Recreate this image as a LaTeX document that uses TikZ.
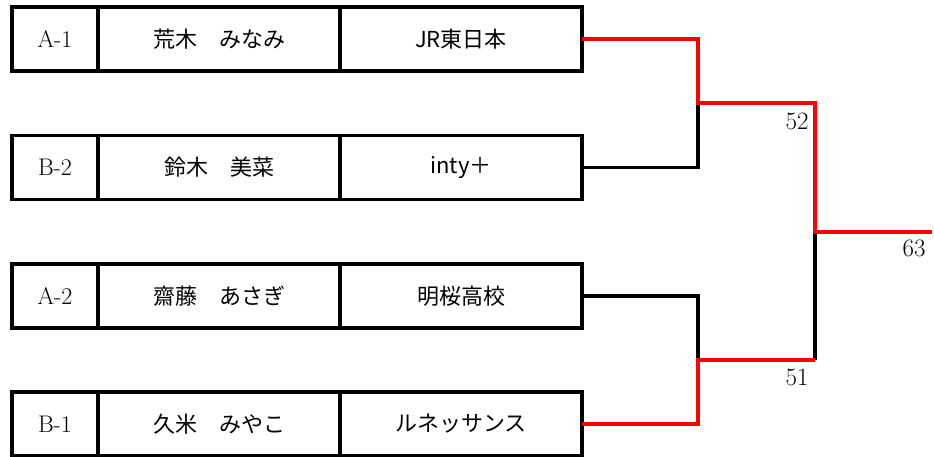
\documentclass[tikz,border=0pt]{standalone}
\usepackage{fontspec}
\newfontfamily\jpfont{Noto Sans CJK JP}
\usepackage{tikz}
\usetikzlibrary{arrows.meta}

\begin{document}
\begin{tikzpicture}[x=1pt,y=-1pt,line width=3.2pt,
cellbox/.style={draw,rectangle,inner sep=0pt,outer sep=0pt,minimum height=64pt},
seedbox/.style={cellbox,minimum width=86pt,font=\fontsize{24}{28}\selectfont},
playerbox/.style={cellbox,minimum width=242pt,font=\jpfont\fontsize{22}{26}\selectfont},
score/.style={font=\fontsize{25}{28}\selectfont}]
\useasboundingbox(0,0)rectangle(934,457);
% entries
\node[seedbox](s1)at(55,39){A-1};
\node[playerbox](p1)at(219,39){荒木　みなみ};
\node[playerbox](t1)at(461,39){JR東日本};
\node[seedbox](s2)at(55,167.5){B-2};
\node[playerbox](p2)at(219,167.5){鈴木　美菜};
\node[playerbox](t2)at(461,167.5){inty＋};
\node[seedbox](s3)at(55,296){A-2};
\node[playerbox](p3)at(219,296){齋藤　あさぎ};
\node[playerbox](t3)at(461,296){明桜高校};
\node[seedbox](s4)at(55,424){B-1};
\node[playerbox](p4)at(219,424){久米　みやこ};
\node[playerbox](t4)at(461,424){ルネッサンス};
% bracket
\coordinate(j1)at(698,103);
\coordinate(j2)at(698,360);
\coordinate(m1)at(815,103);
\coordinate(m2)at(815,360);
\coordinate(f)at(815,232);
\coordinate(w)at(932,232);
\draw(t2.east)-|(j1);
\draw(t3.east)-|(j2);
\draw(m2)--(f);
\draw[red](t1.east)-|(j1)--(m1)--(f)--(w);
\draw[red](t4.east)-|(j2)--(m2);
\node[score](r1)at(797,121){52};
\node[score](r2)at(797,377){51};
\node[score](r3)at(914,248){63};
\end{tikzpicture}
\end{document}
